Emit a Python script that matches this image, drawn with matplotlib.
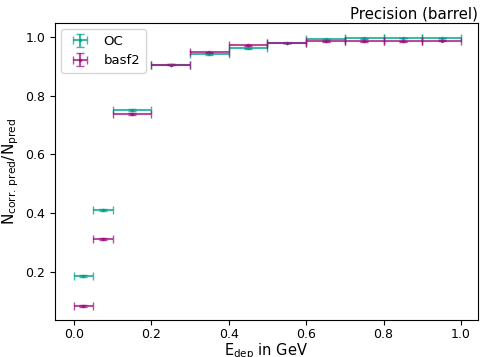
import matplotlib
matplotlib.use("Agg")
import matplotlib.pyplot as plt
import numpy as np

bin_edges = [0.0, 0.05, 0.1, 0.2, 0.3, 0.4, 0.5, 0.6, 0.7, 0.8, 0.9, 1.0]
oc_values = [0.186, 0.411, 0.751, 0.905, 0.942, 0.962, 0.980, 0.992, 0.995, 0.997, 0.997]
basf2_values = [0.084, 0.312, 0.738, 0.905, 0.948, 0.972, 0.980, 0.985, 0.985, 0.985, 0.987]
oc_err = [0.003, 0.003, 0.003, 0.002, 0.002, 0.002, 0.001, 0.001, 0.001, 0.001, 0.001]
basf2_err = [0.003, 0.003, 0.003, 0.002, 0.002, 0.002, 0.001, 0.001, 0.001, 0.001, 0.001]

edges = np.array(bin_edges)
centers = (edges[:-1] + edges[1:]) / 2
half = (edges[1:] - edges[:-1]) / 2

fig = plt.figure(figsize=(4.81, 3.57), dpi=100)
ax = fig.add_axes([0.114, 0.104, 0.880, 0.832])

teal = "#00a08a"
purple = "#a0107e"
ax.errorbar(centers, oc_values, xerr=half, yerr=oc_err, fmt='.', color=teal,
            capsize=3, markersize=3, alpha=0.75, label='OC')
ax.errorbar(centers, basf2_values, xerr=half, yerr=basf2_err, fmt='.', color=purple,
            capsize=3, markersize=3, alpha=0.75, label='basf2')

ax.set_xlim(-0.049, 1.044)
ax.set_ylim(0.037, 1.048)
ax.set_xticks([0.0, 0.2, 0.4, 0.6, 0.8, 1.0])
ax.set_yticks([0.2, 0.4, 0.6, 0.8, 1.0])
ax.tick_params(labelsize=9)
ax.tick_params(axis='x', pad=2.5)
ax.set_xlabel(r'$\mathrm{E_{dep}}$ in GeV', fontsize=10.5)
ax.xaxis.set_label_coords(0.5, -0.072)
ax.set_ylabel(r'$\mathrm{N_{corr.\,pred}/N_{pred}}$', fontsize=11, labelpad=3)
ax.set_title('Precision (barrel)', loc='right', fontsize=10.8, pad=3)
ax.legend(loc='upper left', fontsize=9.5)

fig.savefig('out.png', dpi=100)
